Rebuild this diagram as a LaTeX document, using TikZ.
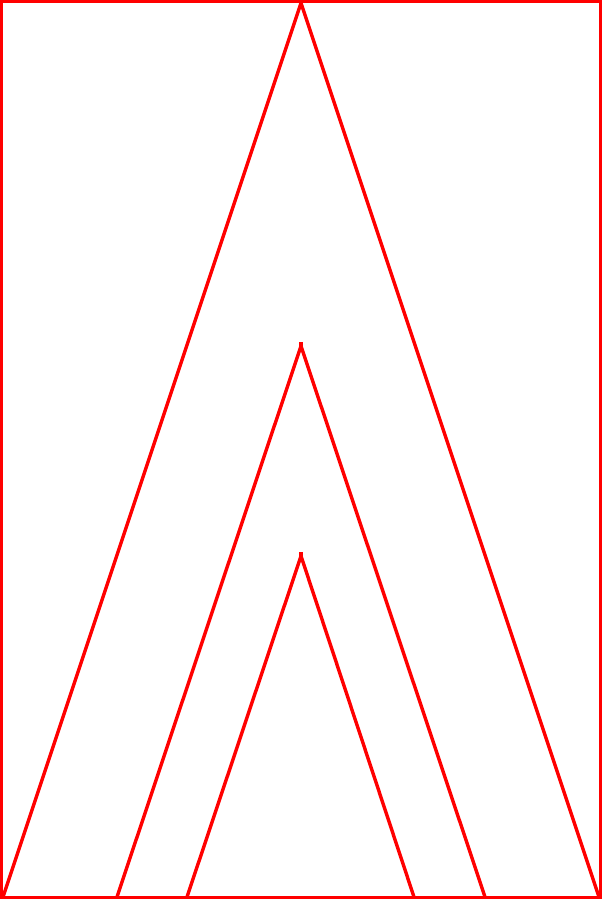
\documentclass[tikz,border=0pt]{standalone}
\begin{document}
\begin{tikzpicture}[x=1pt,y=-1pt,
  redline/.style={draw=red, line width=3.4pt, line join=bevel},
  stub/.style={draw=red, line width=3.4pt, line cap=butt}]
\useasboundingbox (0,0) rectangle (602,901);
\coordinate (tl) at (1.7,1.7);
\coordinate (br) at (600.3,897.3);
\draw[redline, line join=miter] (tl) rectangle (br);
\coordinate (a1) at (301,3);
\coordinate (l1) at (3,897);
\coordinate (r1) at (599,897);
\coordinate (a2) at (301,346);
\coordinate (l2) at (117,897);
\coordinate (r2) at (485,897);
\coordinate (a3) at (301,556);
\coordinate (l3) at (187,897);
\coordinate (r3) at (414,897);
\draw[redline] (l1) -- (a1) -- (r1);
\draw[redline] (l2) -- (a2) -- (r2);
\draw[redline] (l3) -- (a3) -- (r3);
\draw[stub] ([yshift=4pt]a2) -- ([yshift=-3pt]a2);
\draw[stub] ([yshift=4pt]a3) -- ([yshift=-3pt]a3);
\end{tikzpicture}
\end{document}
